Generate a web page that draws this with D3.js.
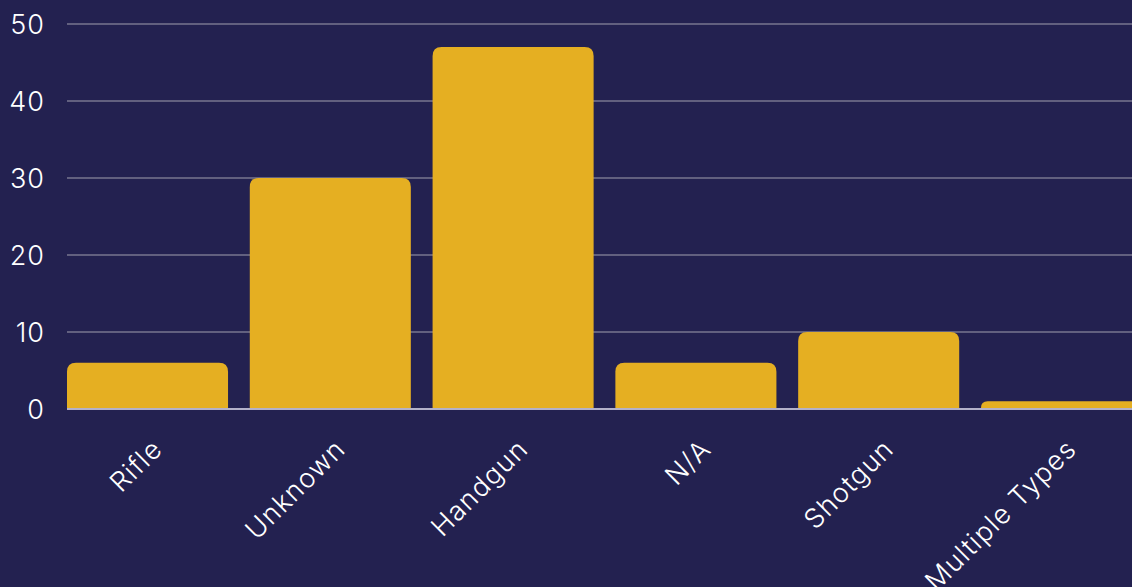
<!DOCTYPE html>
<html>
<head>
<meta charset="utf-8">
<script src="https://cdn.jsdelivr.net/npm/d3@7"></script>
<style>
  body { margin: 0; background: #232150; overflow: hidden; }
  text { font-family: Inter, "Noto Sans", sans-serif; font-weight: 300; fill: #ffffff; }
</style>
</head>
<body>
<div class="chart"></div>
<script>
var categories = ["Rifle", "Unknown", "Handgun", "N/A", "Shotgun", "Multiple Types"];
var counts = [6, 30, 47, 6, 10, 1];
var yTicks = [0, 10, 20, 30, 40, 50];

var width = 1132;
var height = 587;

var svg = d3.select(".chart").append("svg")
    .attr("width", width)
    .attr("height", height);

var x = d3.scaleBand()
    .domain(categories)
    .range([67, 1142])
    .paddingInner(0.119)
    .paddingOuter(0);

var y = d3.scaleLinear()
    .domain([0, 50])
    .range([409, 24]);

// grid
svg.append("g")
    .attr("class", "grid")
  .selectAll("line")
  .data(yTicks.filter(function(d) { return d > 0; }))
  .enter().append("line")
    .attr("x1", 67)
    .attr("x2", width)
    .attr("y1", function(d) { return y(d); })
    .attr("y2", function(d) { return y(d); })
    .attr("stroke", "#62607f")
    .attr("stroke-width", 2);

// y tick labels
svg.append("g")
  .selectAll("text")
  .data(yTicks)
  .enter().append("text")
    .attr("x", 45)
    .attr("y", function(d) { return y(d); })
    .attr("dy", "0.36em")
    .attr("text-anchor", "end")
    .style("font-size", "27px")
    .style("letter-spacing", "1px")
    .text(function(d) { return d; });

// baseline
svg.append("line")
    .attr("x1", 67)
    .attr("x2", width)
    .attr("y1", y(0))
    .attr("y2", y(0))
    .attr("stroke", "#b3b1c9")
    .attr("stroke-width", 2);

// bars with rounded top corners
var r = 9;
function barPath(d, i) {
  var x0 = x(categories[i]), w = x.bandwidth();
  var y0 = y(d), yb = y(0) - 1;
  var rr = Math.min(r, (yb - y0));
  return "M" + x0 + "," + yb +
    "V" + (y0 + rr) +
    "Q" + x0 + "," + y0 + " " + (x0 + rr) + "," + y0 +
    "H" + (x0 + w - rr) +
    "Q" + (x0 + w) + "," + y0 + " " + (x0 + w) + "," + (y0 + rr) +
    "V" + yb + "Z";
}

svg.append("g")
    .attr("class", "bars")
  .selectAll("path")
  .data(counts)
  .enter().append("path")
    .attr("d", barPath)
    .attr("fill", "#e5af22");

// x labels
svg.append("g")
  .selectAll("text")
  .data(categories)
  .enter().append("text")
    .attr("text-anchor", "end")
    .attr("transform", function(d) {
      var cx = x(d) + x.bandwidth() / 2;
      return "translate(" + (cx + 10) + "," + 444 + ") rotate(-45)";
    })
    .attr("dy", "0.35em")
    .style("font-size", "27px")
    .style("letter-spacing", "1.2px")
    .text(function(d) { return d; });
</script>
</body>
</html>
